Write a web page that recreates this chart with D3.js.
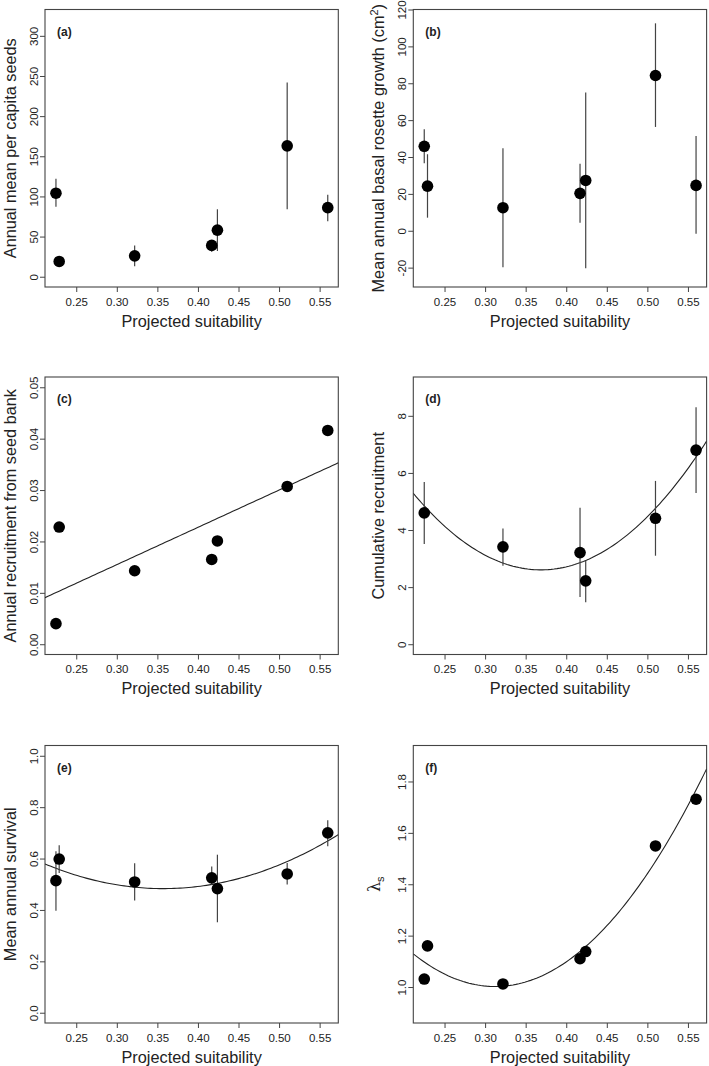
<!DOCTYPE html>
<html>
<head>
<meta charset="utf-8">
<script src="https://cdn.jsdelivr.net/npm/d3@7"></script>
<style>
  body { margin: 0; background: #fff; }
  svg { display: block; font-family: "Liberation Sans", Arial, sans-serif; }
</style>
</head>
<body>
<svg id="chart" width="709" height="1066"></svg>
<script>
// projected suitability of the 7 populations (x for every panel)
let suitability = [0.225, 0.229, 0.322, 0.417, 0.424, 0.510, 0.560];
let xTicks = [0.25, 0.30, 0.35, 0.40, 0.45, 0.50, 0.55];

// (a) seeds
let seeds   = [104, 19, 26, 39, 58, 163, 86];
let seedsLo = [87, null, 13, 31, 32, 84, 69];
let seedsHi = [122, null, 39, 44, 84, 242, 102];

// (b) rosette growth
let growth   = [45.8, 24.2, 12.5, 20.3, 27.3, 84.2, 24.6];
let growthLo = [36.6, 7.1, -19.8, 4.3, -20.3, 56.3, -1.6];
let growthHi = [55, 41.5, 44.7, 36.4, 75, 112.5, 51.4];

// (c) recruitment from seed bank + linear fit (intercept, slope)
let seedbank = [0.0040, 0.0228, 0.0143, 0.0165, 0.0201, 0.0307, 0.0416];
let seedbankFit = [-0.00628, 0.07256];

// (d) cumulative recruitment + quadratic fit
let recruit   = [4.60, null, 3.41, 3.21, 2.22, 4.41, 6.80];
let recruitLo = [3.51, null, 2.75, 1.65, 1.47, 3.10, 5.30];
let recruitHi = [5.68, null, 4.05, 4.78, 2.92, 5.72, 8.30];
let recruitFit = [17.33, -79.83, 108.2];

// (e) survival + quadratic fit
let survival   = [0.514, 0.598, 0.509, 0.525, 0.483, 0.540, 0.700];
let survivalLo = [0.397, 0.544, 0.437, 0.498, 0.352, 0.499, 0.648];
let survivalHi = [0.628, 0.652, 0.582, 0.569, 0.615, 0.583, 0.749];
let survivalFit = [1.0595, -3.227, 4.516];

// (f) stochastic lambda + quadratic fit
let lambdaS = [1.031, 1.160, 1.012, 1.110, 1.138, 1.549, 1.731];
let lambdaFit = [2.219, -7.791, 12.47];

let svg = d3.select("#chart");
let plotW = 293.3, plotH = 277.5;
let colX = [45, 413.3];
let rowY = [9.5, 377, 745.5];
let ink = "#444";

let panels = [
  {tag: "(a)", col: 0, row: 0, y: seeds, lo: seedsLo, hi: seedsHi, dom: [-12.8, 332.8],
   ticks: [0, 50, 100, 150, 200, 250, 300], fmt: d3.format("d"), title: ["Annual mean per capita seeds"]},
  {tag: "(b)", col: 1, row: 0, y: growth, lo: growthLo, hi: growthHi, dom: [-30.5, 120],
   ticks: [-20, 0, 20, 40, 60, 80, 100, 120], fmt: d => String(d), title: ["Mean annual basal rosette growth (cm", "2", ")"]},
  {tag: "(c)", col: 0, row: 1, y: seedbank, dom: [-0.002, 0.052], fit: seedbankFit,
   ticks: [0, 0.01, 0.02, 0.03, 0.04, 0.05], fmt: d3.format(".2f"), title: ["Annual recruitment from seed bank"]},
  {tag: "(d)", col: 1, row: 1, y: recruit, lo: recruitLo, hi: recruitHi, dom: [-0.36, 9.36], fit: recruitFit,
   ticks: [0, 2, 4, 6, 8], fmt: d3.format("d"), title: ["Cumulative recruitment"]},
  {tag: "(e)", col: 0, row: 2, y: survival, lo: survivalLo, hi: survivalHi, dom: [-0.04, 1.04], fit: survivalFit,
   ticks: [0, 0.2, 0.4, 0.6, 0.8, 1.0], fmt: d3.format(".1f"), title: ["Mean annual survival"]},
  {tag: "(f)", col: 1, row: 2, y: lambdaS, dom: [0.86, 1.94], fit: lambdaFit, lambda: true,
   ticks: [1.0, 1.2, 1.4, 1.6, 1.8], fmt: d3.format(".1f")}
];

let defs = svg.append("defs");

panels.forEach((p, i) => {
  let left = colX[p.col], top = rowY[p.row];
  let g = svg.append("g").attr("transform", "translate(" + left + "," + top + ")");
  let x = d3.scaleLinear().domain([0.2115, 0.573]).range([0, plotW]);
  let y = d3.scaleLinear().domain(p.dom).range([plotH, 0]);

  defs.append("clipPath").attr("id", "clip" + i)
    .append("rect").attr("width", plotW).attr("height", plotH);

  // x axis
  let xa = g.append("g").attr("transform", "translate(0," + plotH + ")")
    .call(d3.axisBottom(x).tickValues(xTicks).tickFormat(d3.format(".2f")).tickSize(5));
  xa.select(".domain").remove();
  xa.selectAll("line").attr("stroke", ink);
  xa.selectAll("text").attr("y", 18.7).attr("dy", null)
    .attr("font-size", 11.5).attr("fill", "#222").attr("font-family", null);

  // y axis, labels rotated like R's default
  let ya = g.append("g").call(d3.axisLeft(y).tickValues(p.ticks).tickFormat(p.fmt).tickSize(5));
  ya.select(".domain").remove();
  ya.selectAll("line").attr("stroke", ink);
  ya.selectAll("text").attr("x", 0).attr("y", -7.2).attr("dy", null)
    .attr("transform", "rotate(-90)").attr("text-anchor", "middle")
    .attr("font-size", 11.5).attr("fill", "#222").attr("font-family", null);

  // box
  g.append("rect").attr("width", plotW).attr("height", plotH)
    .attr("fill", "none").attr("stroke", ink).attr("stroke-width", 1.1);

  // x title
  g.append("text").attr("x", plotW / 2).attr("y", plotH + 39.5)
    .attr("text-anchor", "middle").attr("font-size", 16.3).attr("fill", "#222")
    .text("Projected suitability");

  // y title
  let yt = g.append("text").attr("transform", "translate(-29.3," + plotH / 2 + ") rotate(-90)")
    .attr("text-anchor", "middle").attr("font-size", 16.3).attr("fill", "#222");
  if (p.lambda) {
    yt.attr("transform", "translate(-33," + plotH / 2 + ") rotate(-90)");
    yt.append("tspan").attr("font-family", "DejaVu Serif").attr("font-size", 16).text("\u03bb");
    yt.append("tspan").attr("font-size", 11).attr("dy", 4).text("s");
  } else {
    yt.append("tspan").text(p.title[0]);
    if (p.title.length > 1) {
      yt.append("tspan").attr("font-size", 11).attr("dy", -6).text(p.title[1]);
      yt.append("tspan").attr("dy", 6).text(p.title[2]);
    }
  }

  // panel tag
  g.append("text").attr("x", 12).attr("y", 26).attr("font-size", 12)
    .attr("font-weight", "bold").attr("fill", "#222").text(p.tag);

  let pts = suitability.map((s, k) => ({x: s, y: p.y[k], lo: p.lo ? p.lo[k] : null, hi: p.hi ? p.hi[k] : null}))
    .filter(d => d.y !== null);

  // fitted line
  if (p.fit) {
    let xs = d3.range(0, 101).map(k => 0.2115 + k * (0.573 - 0.2115) / 100);
    let curve = xs.map(v => ({x: v, y: p.fit.reduce((s, c, j) => s + c * Math.pow(v, j), 0)}));
    g.append("path").datum(curve).attr("clip-path", "url(#clip" + i + ")")
      .attr("d", d3.line().x(d => x(d.x)).y(d => y(d.y)))
      .attr("fill", "none").attr("stroke", "#222").attr("stroke-width", 1.1);
  }

  // error bars
  g.selectAll(".err").data(pts.filter(d => d.lo !== null)).enter().append("line")
    .attr("x1", d => x(d.x)).attr("x2", d => x(d.x))
    .attr("y1", d => y(d.lo)).attr("y2", d => y(d.hi))
    .attr("stroke", ink).attr("stroke-width", 1.2);

  // points
  g.selectAll("circle").data(pts).enter().append("circle")
    .attr("cx", d => x(d.x)).attr("cy", d => y(d.y)).attr("r", 5.8).attr("fill", "#000");
});
</script>
</body>
</html>
